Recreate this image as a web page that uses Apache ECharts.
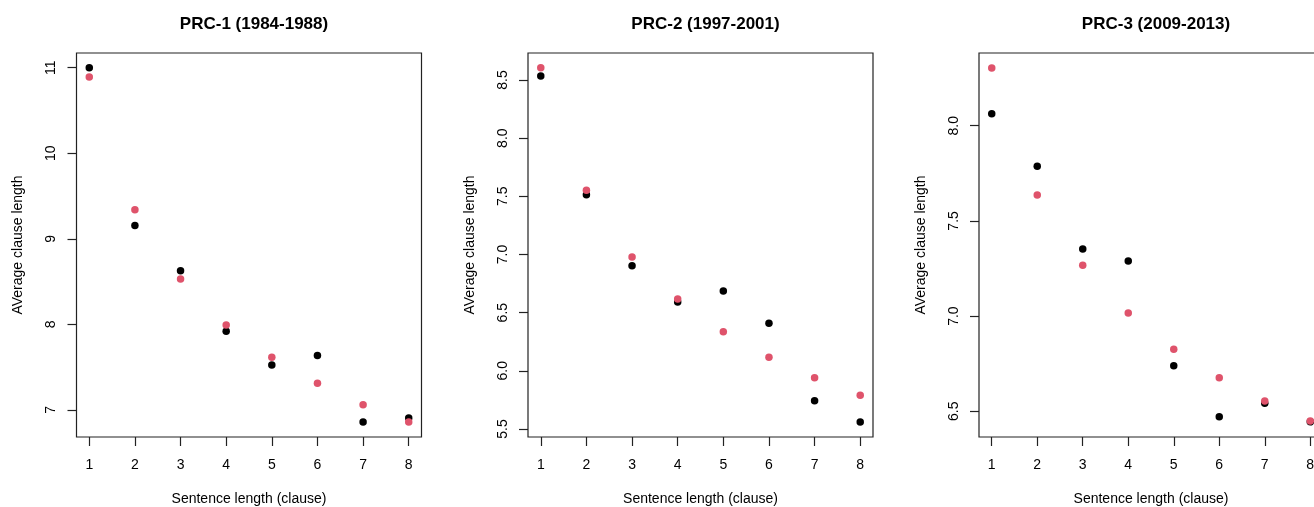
<!DOCTYPE html>
<html>
<head>
<meta charset="utf-8">
<script src="https://cdn.jsdelivr.net/npm/echarts@6/dist/echarts.min.js"></script>
<style>
html,body{margin:0;padding:0;background:#fff;}
#chart{width:1314px;height:507px;}
</style>
</head>
<body>
<div id="chart"></div>
<script>
const titles = ['PRC-1 (1984-1988)', 'PRC-2 (1997-2001)', 'PRC-3 (2009-2013)'];
const xAxisTitle = 'Sentence length (clause)';
const yAxisTitle = 'AVerage clause length';
const categories = [1, 2, 3, 4, 5, 6, 7, 8];

const prc1Black = [11.0, 9.156, 8.626, 7.92, 7.524, 7.637, 6.86, 6.906];
const prc1Red   = [10.89, 9.34, 8.53, 7.993, 7.616, 7.312, 7.062, 6.86];
const prc2Black = [8.534, 7.514, 6.904, 6.592, 6.686, 6.408, 5.743, 5.56];
const prc2Red   = [8.606, 7.552, 6.978, 6.617, 6.336, 6.116, 5.941, 5.79];
const prc3Black = [8.063, 7.787, 7.352, 7.289, 6.739, 6.472, 6.542, 6.445];
const prc3Red   = [8.303, 7.636, 7.267, 7.016, 6.826, 6.676, 6.554, 6.449];

const xTicks = [1, 2, 3, 4, 5, 6, 7, 8];
const yTicks1 = [7, 8, 9, 10, 11];
const yTicks2 = [5.5, 6.0, 6.5, 7.0, 7.5, 8.0, 8.5];
const yTicks3 = [6.5, 7.0, 7.5, 8.0];

const panels = [
  {title: titles[0], black: prc1Black, red: prc1Red, ticks: yTicks1, dec: 0, min: 6.684, max: 11.171, left: 76.5, width: 345},
  {title: titles[1], black: prc2Black, red: prc2Red, ticks: yTicks2, dec: 1, min: 5.431, max: 8.732, left: 528, width: 345},
  {title: titles[2], black: prc3Black, red: prc3Red, ticks: yTicks3, dec: 1, min: 6.365, max: 8.382, left: 979, width: 344}
];

const FONT = '"Liberation Sans", Arial, sans-serif';
const chart = echarts.init(document.getElementById('chart'), null, {renderer: 'canvas'});

const option = {
  backgroundColor: '#ffffff',
  animation: false,
  title: [], grid: [], xAxis: [], yAxis: [], series: []
};

panels.forEach((p, i) => {
  option.title.push({
    text: p.title,
    left: p.left + p.width / 2,
    textAlign: 'center',
    top: 11,
    textStyle: {fontFamily: FONT, fontSize: 17, fontWeight: 'bold', color: '#000'}
  });
  option.grid.push({
    left: p.left, width: p.width, top: 53, height: 384,
    show: true, borderColor: '#222', borderWidth: 1.2, backgroundColor: 'transparent',
    containLabel: false, outerBoundsMode: 'none'
  });
  option.xAxis.push({
    gridIndex: i, type: 'value', min: 0.72, max: 8.28,
    axisLine: {show: false},
    splitLine: {show: false},
    axisTick: {show: true, inside: false, length: 9, customValues: xTicks, lineStyle: {color: '#222', width: 1.2}},
    axisLabel: {show: true, customValues: xTicks, margin: 21, color: '#000', fontFamily: FONT, fontSize: 14,
      formatter: v => String(v)},
    name: xAxisTitle, nameLocation: 'middle', nameGap: 55,
    nameTextStyle: {fontFamily: FONT, fontSize: 14, color: '#000'}
  });
  option.yAxis.push({
    gridIndex: i, type: 'value', min: p.min, max: p.max,
    axisLine: {show: false},
    splitLine: {show: false},
    axisTick: {show: true, inside: false, length: 9, customValues: p.ticks, lineStyle: {color: '#222', width: 1.2}},
    axisLabel: {show: true, customValues: p.ticks, rotate: 90, margin: 18, color: '#000', fontFamily: FONT, fontSize: 14,
      formatter: v => Number(v).toFixed(p.dec)},
    name: yAxisTitle, nameLocation: 'middle', nameGap: 51, nameRotate: 90,
    nameTextStyle: {fontFamily: FONT, fontSize: 14, color: '#000'}
  });
  option.series.push({
    type: 'scatter', xAxisIndex: i, yAxisIndex: i,
    data: categories.map((c, k) => [c, p.black[k]]),
    symbol: 'circle', symbolSize: 7.5,
    itemStyle: {color: '#000000', opacity: 1}
  });
  option.series.push({
    type: 'scatter', xAxisIndex: i, yAxisIndex: i,
    data: categories.map((c, k) => [c, p.red[k]]),
    symbol: 'circle', symbolSize: 7.5,
    itemStyle: {color: '#DF536B', opacity: 1}
  });
});

chart.setOption(option);
</script>
</body>
</html>
